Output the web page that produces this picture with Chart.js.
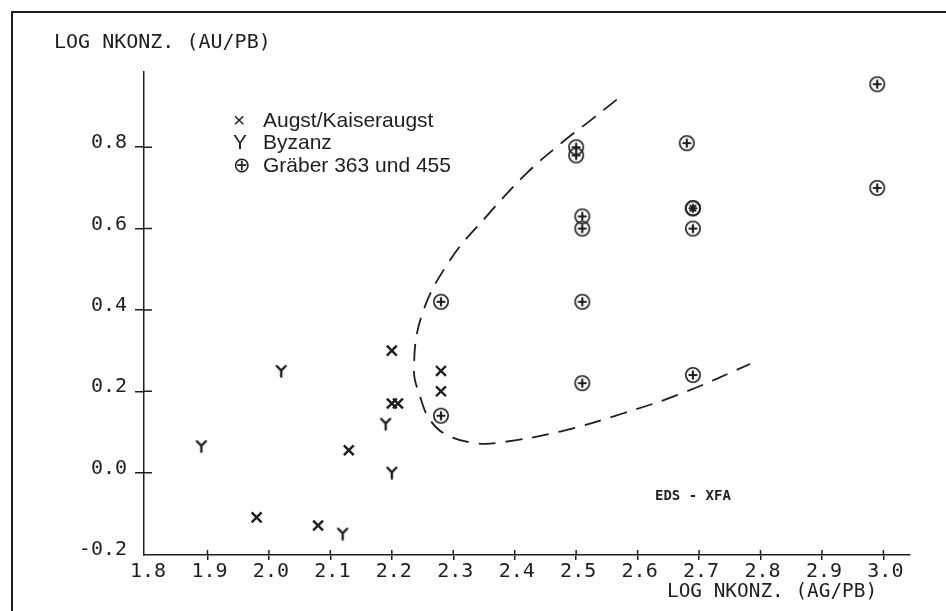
<!DOCTYPE html>
<html>
<head>
<meta charset="utf-8">
<script src="https://cdn.jsdelivr.net/npm/chart.js@4/dist/chart.umd.min.js"></script>
<style>
html,body{margin:0;padding:0;background:#fff;}
canvas{display:block;}
</style>
</head>
<body>
<canvas id="c" width="946" height="611"></canvas>
<script>
// ---- data ----
const xTicks = [1.8, 1.9, 2.0, 2.1, 2.2, 2.3, 2.4, 2.5, 2.6, 2.7, 2.8, 2.9, 3.0];
const yTicks = [-0.2, 0.0, 0.2, 0.4, 0.6, 0.8];

const augstX = [2.20, 2.28, 2.28, 2.20, 2.21, 2.13, 1.98, 2.08];
const augstY = [0.30, 0.25, 0.20, 0.17, 0.17, 0.055, -0.11, -0.13];

const byzanzX = [2.02, 2.19, 1.89, 2.20, 2.12];
const byzanzY = [0.25, 0.12, 0.065, 0.0, -0.15];

const graeberX = [2.28, 2.28, 2.50, 2.50, 2.51, 2.51, 2.51, 2.51, 2.68, 2.69, 2.69, 2.69, 2.69, 2.99, 2.99];
const graeberY = [0.14, 0.42, 0.80, 0.78, 0.63, 0.60, 0.42, 0.22, 0.81, 0.65, 0.65, 0.60, 0.24, 0.955, 0.70];
const graeberRot = [0, 0, 0, 0, 0, 0, 0, 0, 0, 0, 45, 0, 0, 0, 0];

const curveX = [2.566, 2.525, 2.479, 2.420, 2.354, 2.295, 2.249, 2.236, 2.246, 2.262, 2.289, 2.338, 2.376, 2.474, 2.577, 2.672, 2.783];
const curveY = [0.917, 0.868, 0.814, 0.737, 0.630, 0.523, 0.388, 0.253, 0.187, 0.130, 0.093, 0.072, 0.074, 0.101, 0.146, 0.195, 0.267];

const legendLabels = ['Augst/Kaiseraugst', 'Byzanz', 'Gräber 363 und 455'];
const legendSymbols = ['×', 'Y', '⊕'];
const yTitle = 'LOG NKONZ. (AU/PB)';
const xTitle = 'LOG NKONZ. (AG/PB)';
const note = 'EDS - XFA';

// ---- styles ----
const INK = '#1e1e1e';
const MONO = '"DejaVu Sans Mono", "Liberation Mono", monospace';
const SANS = '"Liberation Sans", Arial, "DejaVu Sans", sans-serif';

function pts(xs, ys) { return xs.map((x, i) => ({x: x, y: ys[i]})); }

function makeMarker(size, draw) {
  const c = document.createElement('canvas');
  c.width = size; c.height = size;
  const g = c.getContext('2d');
  g.strokeStyle = INK;
  g.lineCap = 'round';
  draw(g, size);
  return c;
}
const yMarker = makeMarker(14, (g, s) => {
  g.lineWidth = 2.4;
  g.beginPath();
  g.moveTo(2.5, 2); g.lineTo(7, 6.5); g.lineTo(11.5, 2);
  g.moveTo(7, 6.5); g.lineTo(7, 12.5);
  g.stroke();
});
const plusCircle = makeMarker(20, (g, s) => {
  g.lineWidth = 1.6;
  g.beginPath(); g.arc(10, 10, 7.2, 0, Math.PI * 2); g.stroke();
  g.lineWidth = 2.2; g.lineCap = 'butt';
  g.beginPath();
  g.moveTo(10, 5.6); g.lineTo(10, 14.4);
  g.moveTo(5.6, 10); g.lineTo(14.4, 10);
  g.stroke();
});

const chartLeft = 144, chartTop = 72, chartRight = 910, chartBottom = 555;

const decor = {
  id: 'decor',
  beforeDraw(chart) {
    const ctx = chart.ctx;
    ctx.save();
    ctx.fillStyle = '#fff';
    ctx.fillRect(0, 0, chart.width, chart.height);
    ctx.strokeStyle = INK;
    ctx.lineWidth = 2;
    ctx.beginPath();
    ctx.moveTo(12, chart.height + 2); ctx.lineTo(12, 12); ctx.lineTo(chart.width + 2, 12);
    ctx.stroke();
    ctx.restore();
  },
  afterDraw(chart) {
    const ctx = chart.ctx;
    const xs = chart.scales.x, ys = chart.scales.y;
    ctx.save();
    ctx.strokeStyle = INK;
    ctx.lineWidth = 1.5;
    ctx.beginPath();
    xTicks.slice(1).forEach(v => {
      const px = xs.getPixelForValue(v);
      ctx.moveTo(px, chartBottom); ctx.lineTo(px, chartBottom - 5);
    });
    yTicks.slice(1).forEach(v => {
      const py = ys.getPixelForValue(v);
      ctx.moveTo(chartLeft, py); ctx.lineTo(chartLeft + 8, py);
    });
    ctx.stroke();

    ctx.fillStyle = INK;
    ctx.textBaseline = 'middle';
    ctx.textAlign = 'left';
    ctx.font = '20px ' + MONO;
    ctx.fillText(yTitle, 54, 43);
    ctx.font = '19.4px ' + MONO;
    ctx.fillText(xTitle, 667, 592);

    ctx.font = 'bold 14px ' + MONO;
    ctx.fillText(note, 655, 496);

    ctx.textBaseline = 'alphabetic';
    const base = [126.7, 149.2, 171.7];
    legendLabels.forEach((lab, i) => {
      ctx.font = '21px ' + SANS;
      ctx.fillText(legendSymbols[i], 233, base[i]);
      ctx.fillText(lab, 263, base[i]);
    });
    ctx.restore();
  }
};

new Chart(document.getElementById('c'), {
  type: 'scatter',
  data: {
    datasets: [
      {
        label: 'Grenze',
        data: pts(curveX, curveY),
        showLine: true,
        tension: 0.4,
        borderColor: INK,
        borderWidth: 1.8,
        borderDash: [17, 10],
        pointRadius: 0,
        fill: false
      },
      {
        label: legendLabels[0],
        data: pts(augstX, augstY),
        pointStyle: 'crossRot',
        pointRadius: 7,
        borderColor: INK,
        pointBorderWidth: 2.4,
        backgroundColor: INK
      },
      {
        label: legendLabels[1],
        data: pts(byzanzX, byzanzY),
        pointStyle: yMarker,
        pointRadius: 7
      },
      {
        label: legendLabels[2],
        data: pts(graeberX, graeberY),
        pointStyle: plusCircle,
        pointRotation: graeberRot,
        pointRadius: 10
      }
    ]
  },
  options: {
    responsive: false,
    animation: false,
    devicePixelRatio: 1,
    layout: { padding: { left: 0, top: chartTop, right: 946 - chartRight, bottom: 0 } },
    plugins: { legend: { display: false }, tooltip: { enabled: false }, title: { display: false } },
    scales: {
      x: {
        type: 'linear',
        min: 1.7967,
        max: 3.0433,
        afterBuildTicks: s => { s.ticks = xTicks.map(v => ({ value: v })); },
        afterFit: s => { s.height = 611 - chartBottom; },
        border: { display: true, color: INK, width: 1.5 },
        grid: {
          display: true, drawOnChartArea: false, tickLength: 5, lineWidth: 1.5,
          color: c => (c.tick && c.tick.value === xTicks[0]) ? 'rgba(0,0,0,0)' : INK
        },
        ticks: {
          autoSkip: false, maxRotation: 0, padding: 0, labelOffset: 2,
          color: INK, font: { family: MONO, size: 20 },
          callback: v => Number(v).toFixed(1)
        }
      },
      y: {
        type: 'linear',
        min: -0.2025,
        max: 0.985,
        afterBuildTicks: s => { s.ticks = yTicks.map(v => ({ value: v })); },
        afterFit: s => { s.width = chartLeft; },
        border: { display: true, color: INK, width: 1.5 },
        grid: {
          display: true, drawOnChartArea: false, tickLength: 9, lineWidth: 1.5,
          color: c => (c.tick && c.tick.value === yTicks[0]) ? 'rgba(0,0,0,0)' : INK
        },
        ticks: {
          autoSkip: false, padding: 8, labelOffset: -4,
          color: INK, font: { family: MONO, size: 20 },
          callback: v => Number(v).toFixed(1)
        }
      }
    }
  },
  plugins: [decor]
});
</script>
</body>
</html>
